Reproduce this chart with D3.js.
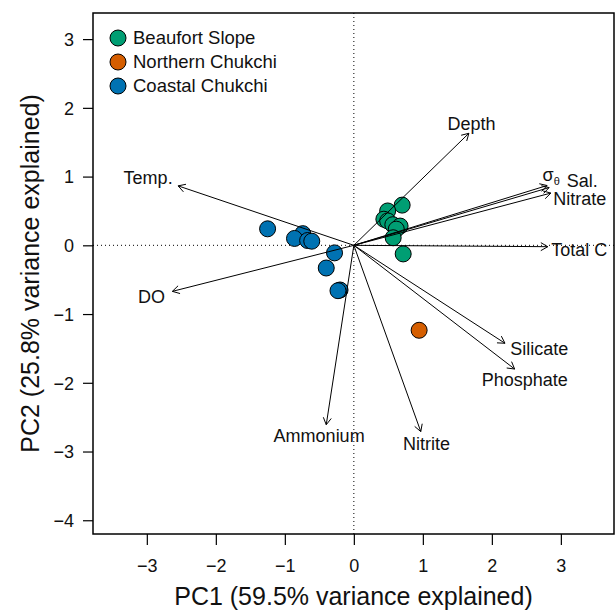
<!DOCTYPE html>
<html lang="en">
<head>
<meta charset="utf-8">
<title>PCA biplot</title>
<script src="https://d3js.org/d3.v7.min.js"></script>
<style>
    body { margin: 0; background: #fff; }
    svg { display: block; font-family: 'Liberation Sans', Arial, Helvetica, sans-serif; }
    .tick text { font-size: 18px; fill: #111; }
    .tick line { stroke: #000; stroke-width: 1.2; }
    .axis path.domain { display: none; }
    text.title { font-size: 25px; fill: #111; }
    text.varlab { font-size: 18px; fill: #111; }
    text.legend { font-size: 18.5px; fill: #111; }
    .zero { stroke: #000; stroke-width: 1; stroke-dasharray: 1 3; }
    .arrow { stroke: #000; stroke-width: 1; fill: none; }
</style>
</head>
<body>
<svg width="616" height="610"></svg>
<script>
// groups
const groups = ['Beaufort Slope', 'Northern Chukchi', 'Coastal Chukchi'];
const groupColors = ['#009E73', '#D55E00', '#0072B2'];

// sample scores (PC1, PC2)
const beaufortPC1 = [0.70, 0.49, 0.435, 0.49, 0.565, 0.67, 0.615, 0.57, 0.715];
const beaufortPC2 = [0.585, 0.50, 0.38, 0.355, 0.30, 0.28, 0.235, 0.11, -0.125];
const northernPC1 = [0.946];
const northernPC2 = [-1.236];
const coastalPC1 = [-1.25, -0.74, -0.86, -0.67, -0.61, -0.28, -0.40, -0.20, -0.23];
const coastalPC2 = [0.24, 0.17, 0.10, 0.07, 0.06, -0.11, -0.33, -0.65, -0.66];

// variable loadings (arrow tips) and label spots
const varNames = ['Depth', 'σθ', 'Sal.', 'Nitrate', 'Total C', 'Temp.', 'DO', 'Ammonium', 'Nitrite', 'Silicate', 'Phosphate'];
const loadPC1 = [1.667, 2.80, 2.83, 2.855, 2.81, -2.546, -2.63, -0.40, 0.97, 2.19, 2.33];
const loadPC2 = [1.63, 0.87, 0.84, 0.76, -0.02, 0.865, -0.67, -2.61, -2.71, -1.425, -1.80];
const labPC1 = [1.706, 2.86, 3.31, 3.275, 3.268, -2.981, -2.932, -0.503, 1.054, 2.686, 2.478];
const labPC2 = [1.767, 1.033, 0.937, 0.671, -0.067, 0.991, -0.747, -2.774, -2.881, -1.498, -1.949];

const xTicks = [-3, -2, -1, 0, 1, 2, 3];
const yTicks = [-4, -3, -2, -1, 0, 1, 2, 3];

const svg = d3.select('svg');

const plotL = 93, plotR = 614, plotT = 13, plotB = 534;

const x = d3.scaleLinear().domain([-3.78, 3.77]).range([plotL, plotR]);
const y = d3.scaleLinear().domain([-4.2, 3.38]).range([plotB, plotT]);

const fmt = d => d < 0 ? '\u2212' + Math.abs(d) : String(d);

// axes
const xAxis = svg.append('g')
    .attr('class', 'axis')
    .attr('transform', `translate(0, ${plotB})`)
    .call(d3.axisBottom(x).tickValues(xTicks).tickSize(11).tickFormat(fmt));
xAxis.selectAll('.tick text').attr('y', 25).attr('dy', '0.71em');

const yAxis = svg.append('g')
    .attr('class', 'axis')
    .attr('transform', `translate(${plotL}, 0)`)
    .call(d3.axisLeft(y).tickValues(yTicks).tickSize(10).tickPadding(9).tickFormat(fmt));
yAxis.selectAll('.tick text').attr('dy', '0.35em');

// zero lines
svg.append('line').attr('class', 'zero')
    .attr('x1', x(0)).attr('x2', x(0)).attr('y1', plotT).attr('y2', plotB);
svg.append('line').attr('class', 'zero')
    .attr('x1', plotL).attr('x2', plotR).attr('y1', y(0)).attr('y2', y(0));

// points
const pts = [];
beaufortPC1.forEach((v, i) => pts.push({ g: 0, pc1: v, pc2: beaufortPC2[i] }));
northernPC1.forEach((v, i) => pts.push({ g: 1, pc1: v, pc2: northernPC2[i] }));
coastalPC1.forEach((v, i) => pts.push({ g: 2, pc1: v, pc2: coastalPC2[i] }));

svg.append('g').selectAll('circle')
    .data(pts)
    .enter()
    .append('circle')
    .attr('cx', d => x(d.pc1))
    .attr('cy', d => y(d.pc2))
    .attr('r', 8)
    .attr('fill', d => groupColors[d.g])
    .attr('stroke', '#000')
    .attr('stroke-width', 1);

// loading arrows
const vars = varNames.map((n, i) => ({ name: n, x: loadPC1[i], y: loadPC2[i], lx: labPC1[i], ly: labPC2[i] }));
const headLen = 8, headAng = Math.PI / 6;

svg.append('g').selectAll('path')
    .data(vars)
    .enter()
    .append('path')
    .attr('class', 'arrow')
    .attr('d', d => {
        const x0 = x(0), y0 = y(0), x1 = x(d.x), y1 = y(d.y);
        const a = Math.atan2(y1 - y0, x1 - x0);
        const h1x = x1 - headLen * Math.cos(a - headAng), h1y = y1 - headLen * Math.sin(a - headAng);
        const h2x = x1 - headLen * Math.cos(a + headAng), h2y = y1 - headLen * Math.sin(a + headAng);
        return `M${x0},${y0}L${x1},${y1}M${h1x},${h1y}L${x1},${y1}L${h2x},${h2y}`;
    });

// variable labels
const labs = svg.append('g').selectAll('text')
    .data(vars)
    .enter()
    .append('text')
    .attr('class', 'varlab')
    .attr('x', d => x(d.lx))
    .attr('y', d => y(d.ly))
    .attr('dy', '0.35em')
    .attr('text-anchor', 'middle');

labs.each(function (d) {
    const t = d3.select(this);
    if (d.name === 'σθ') {
        t.append('tspan').text('σ');
        t.append('tspan').attr('font-size', 11).attr('dy', 4).text('θ');
    } else {
        t.text(d.name);
    }
});

// frame
svg.append('rect')
    .attr('x', plotL).attr('y', plotT)
    .attr('width', plotR - plotL).attr('height', plotB - plotT)
    .attr('fill', 'none').attr('stroke', '#000').attr('stroke-width', 1.5);

// legend
const leg = svg.append('g').selectAll('g')
    .data(groups)
    .enter()
    .append('g')
    .attr('transform', (d, i) => `translate(118, ${38 + i * 24})`);
leg.append('circle').attr('r', 8)
    .attr('fill', (d, i) => groupColors[i])
    .attr('stroke', '#000').attr('stroke-width', 1);
leg.append('text').attr('class', 'legend')
    .attr('x', 15).attr('dy', '0.35em')
    .text(d => d);

// axis titles
svg.append('text')
    .attr('class', 'title')
    .attr('x', (plotL + plotR) / 2)
    .attr('y', 605)
    .attr('text-anchor', 'middle')
    .text('PC1 (59.5% variance explained)');

svg.append('text')
    .attr('class', 'title')
    .attr('transform', `translate(39, ${(plotT + plotB) / 2}) rotate(-90)`)
    .attr('text-anchor', 'middle')
    .text('PC2 (25.8% variance explained)');
</script>
</body>
</html>
